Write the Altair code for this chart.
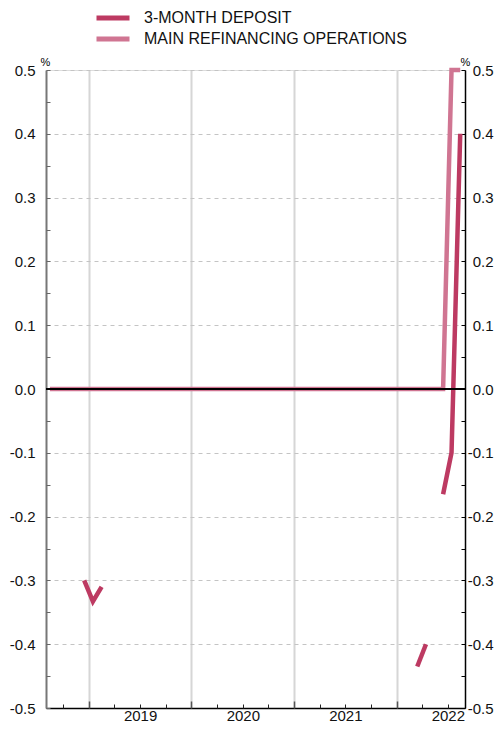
import altair as alt
import pandas as pd

# ---------------- data ----------------
series_names = ["3-MONTH DEPOSIT", "MAIN REFINANCING OPERATIONS"]
series_colors = ["#bd3a62", "#d07592"]

# monthly observations, Aug 2018 .. Aug 2022 (plotted mid-month)
month_labels = [f"{2018 + (7 + i) // 12}-{(7 + i) % 12 + 1:02d}-15" for i in range(49)]

mro = [
    0.0, 0.0, 0.0, 0.0, 0.0, 0.0, 0.0, 0.0, 0.0, 0.0, 0.0, 0.0,
    0.0, 0.0, 0.0, 0.0, 0.0, 0.0, 0.0, 0.0, 0.0, 0.0, 0.0, 0.0,
    0.0, 0.0, 0.0, 0.0, 0.0, 0.0, 0.0, 0.0, 0.0, 0.0, 0.0, 0.0,
    0.0, 0.0, 0.0, 0.0, 0.0, 0.0, 0.0, 0.0, 0.0, 0.0, 0.0, 0.5,
    0.5,
]
deposit = [
    None, None, None, None, -0.30, -0.333, -0.31, None, None, None, None, None,
    None, None, None, None, None, None, None, None, None, None, None, None,
    None, None, None, None, None, None, None, None, None, None, None, None,
    None, None, None, None, None, None, None, -0.435, -0.40, None, -0.165, -0.10,
    0.40,
]

y_label_values = [-0.5, -0.4, -0.3, -0.2, -0.1, 0.0, 0.1, 0.2, 0.3, 0.4, 0.5]
y_tick_values = [-0.5, -0.45, -0.4, -0.35, -0.3, -0.25, -0.2, -0.15, -0.1, -0.05, 0.0,
                 0.05, 0.1, 0.15, 0.2, 0.25, 0.3, 0.35, 0.4, 0.45, 0.5]
years = [2019, 2020, 2021, 2022]

# ---------------- tables ----------------
rows_mro = [{"date": d, "value": v, "series": series_names[1], "seg": 0}
            for d, v in zip(month_labels, mro)]
rows_dep = []
seg = 0
prev = None
for d, v in zip(month_labels, deposit):
    if v is None:
        if prev is not None:
            seg += 1
    else:
        rows_dep.append({"date": d, "value": v, "series": series_names[0], "seg": seg})
    prev = v
df_mro = pd.DataFrame(rows_mro)
df_dep = pd.DataFrame(rows_dep)

W, H = 419, 638
FONT = "Liberation Sans"
YLABEL = "(datum.value < -0.00001 ? '-' : '') + format(abs(datum.value), '.1f')"

xdom = [alt.DateTime(year=2018, month=8, date=1, utc=True),
        alt.DateTime(year=2022, month=9, date=1, utc=True)]


def xs():
    return alt.Scale(type="utc", domain=xdom)


def ys():
    return alt.Scale(domain=[-0.5, 0.5], nice=False, zero=False)


year_starts = [alt.DateTime(year=y, month=1, date=1, utc=True) for y in years]
mid_years = [alt.DateTime(year=y, month=7, date=2, utc=True) for y in years]
quarters = [alt.DateTime(year=2018 + (9 + 3 * i) // 12, month=(9 + 3 * i) % 12 + 1, date=1, utc=True)
            for i in range(16)]

legend = alt.Legend(
    orient="none", legendX=48, legendY=-60, title=None,
    symbolType="stroke", symbolSize=1089, symbolStrokeWidth=5,
    labelFont=FONT, labelFontSize=16, labelColor="#111", labelOffset=12,
    labelLimit=400, clipHeight=16, rowPadding=5, direction="vertical", padding=0,
)
color = alt.Color("series:N", scale=alt.Scale(domain=series_names, range=series_colors), legend=legend)

# MRO line: year grid + left labelled axis
mro_line = alt.Chart(df_mro).mark_line(strokeWidth=4.5, strokeCap="butt").encode(
    x=alt.X("date:T", scale=xs(), axis=alt.Axis(
        orient="bottom", values=year_starts, grid=True, gridColor="#d6d6d6", gridWidth=2,
        labels=False, ticks=False, domain=False, title=None)),
    y=alt.Y("value:Q", scale=ys(), axis=alt.Axis(
        orient="left", values=y_label_values, labelExpr=YLABEL, grid=True, gridColor="#c4c4c4",
        gridDash=[4, 4], gridWidth=1, ticks=False, domain=True, domainColor="#777777",
        domainWidth=2, labelPadding=11, labelFontSize=15, labelFont=FONT, labelColor="#111",
        title="%", titleAngle=0, titleX=-1, titleY=-5, titleAlign="center",
        titleBaseline="alphabetic", titleFontSize=11, titleFontWeight="normal", titleFont=FONT)),
    color=color,
)

# deposit line: year labels + right labelled axis
dep_line = alt.Chart(df_dep).mark_line(strokeWidth=4.5, strokeCap="butt").encode(
    x=alt.X("date:T", scale=xs(), axis=alt.Axis(
        orient="bottom", values=mid_years, format="%Y", grid=False, ticks=False,
        domain=True, domainColor="#000000", domainWidth=1.5, labelPadding=12.5,
        labelBaseline="alphabetic",
        labelFontSize=15, labelFont=FONT, labelColor="#111", title=None)),
    y=alt.Y("value:Q", scale=ys(), axis=alt.Axis(
        orient="right", values=y_label_values, labelExpr=YLABEL, grid=False, ticks=False,
        domain=True, domainColor="#000000", domainWidth=1.5, labelAlign="right",
        labelPadding=28, labelFontSize=15, labelFont=FONT, labelColor="#111",
        title="%", titleAngle=0, titleX=0, titleY=-5, titleAlign="center",
        titleBaseline="alphabetic", titleFontSize=11, titleFontWeight="normal", titleFont=FONT)),
    color=color,
    detail="seg:N",
)

zero_rule = alt.Chart(df_mro).mark_rule(color="#000000", strokeWidth=1).encode(
    y=alt.YDatum(0, scale=ys(), axis=None)
)

# inward ticks: quarterly along bottom, 0.05 steps on the left
ticks_a = alt.Chart(df_mro).mark_point(opacity=0).encode(
    x=alt.X("date:T", scale=xs(), axis=alt.Axis(
        orient="top", offset=-H, values=quarters, tickSize=4, tickWidth=1, tickColor="#222",
        labels=False, domain=False, grid=False, title=None)),
    y=alt.Y("value:Q", scale=ys(), axis=alt.Axis(
        orient="right", offset=-W, values=y_tick_values, tickSize=4, tickWidth=1,
        tickColor="#666666", labels=False, domain=False, grid=False, title=None)),
)

# inward ticks: year starts along bottom, 0.05 steps on the right
ticks_b = alt.Chart(df_mro).mark_point(opacity=0).encode(
    x=alt.X("date:T", scale=xs(), axis=alt.Axis(
        orient="top", offset=-H, values=year_starts, tickSize=7, tickWidth=1.5, tickColor="#555555",
        labels=False, domain=False, grid=False, title=None)),
    y=alt.Y("value:Q", scale=ys(), axis=alt.Axis(
        orient="left", offset=-W, values=y_tick_values, tickSize=4, tickWidth=1,
        tickColor="#000000", labels=False, domain=False, grid=False, title=None)),
)

chart = alt.layer(mro_line, dep_line, zero_rule, ticks_a, ticks_b).resolve_scale(
    x="independent", y="independent"
).properties(
    width=W, height=H,
    autosize=alt.AutoSizeParams(type="none"),
    padding={"left": 38, "top": 62, "right": 29, "bottom": 16},
).configure_view(stroke=None).configure(font=FONT)

chart.save("out.html", embed_options={"renderer": "svg", "actions": False})
